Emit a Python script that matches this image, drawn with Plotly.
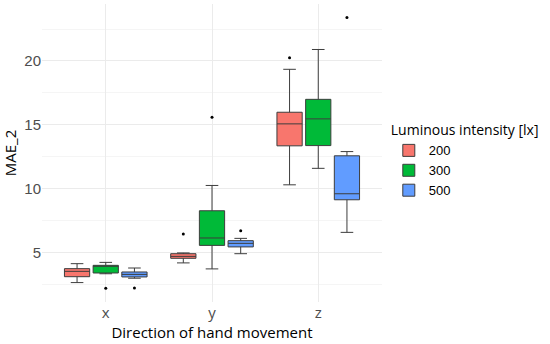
"""Grouped boxplot of MAE_2 by hand movement direction and luminous intensity."""

import plotly.graph_objects as go

# Categories and groups
directions = ['x', 'y', 'z']
lux_levels = ['200', '300', '500']
lux_colors = ['#F8766D', '#00BA38', '#619CFF']

# Box statistics per lux level (one value per direction: x, y, z)
q1_200 = [3.12, 4.56, 13.36]
median_200 = [3.54, 4.71, 15.08]
q3_200 = [3.75, 4.92, 15.99]
lower_200 = [2.66, 4.20, 10.31]
upper_200 = [4.14, 4.98, 19.35]

q1_300 = [3.41, 5.57, 13.38]
median_300 = [3.93, 6.15, 15.47]
q3_300 = [4.01, 8.28, 17.00]
lower_300 = [3.35, 3.73, 11.60]
upper_300 = [4.24, 10.26, 20.90]

q1_500 = [3.10, 5.45, 9.14]
median_500 = [3.30, 5.73, 9.61]
q3_500 = [3.49, 5.94, 12.58]
lower_500 = [3.00, 4.92, 6.59]
upper_500 = [3.80, 6.12, 12.91]

# Outliers per lux level
outlier_x_200 = ['y', 'z']
outlier_y_200 = [6.46, 20.26]
outlier_x_300 = ['x', 'y']
outlier_y_300 = [2.21, 15.6]
outlier_x_500 = ['x', 'y', 'z']
outlier_y_500 = [2.24, 6.72, 23.41]

stats = {
    '200': (q1_200, median_200, q3_200, lower_200, upper_200, outlier_x_200, outlier_y_200),
    '300': (q1_300, median_300, q3_300, lower_300, upper_300, outlier_x_300, outlier_y_300),
    '500': (q1_500, median_500, q3_500, lower_500, upper_500, outlier_x_500, outlier_y_500),
}

fig = go.Figure()

for lux, color in zip(lux_levels, lux_colors):
    q1, med, q3, lo, hi, ox, oy = stats[lux]
    fig.add_trace(go.Box(
        x=directions,
        q1=q1, median=med, q3=q3,
        lowerfence=lo, upperfence=hi,
        name=lux,
        offsetgroup=lux,
        alignmentgroup='all',
        fillcolor=color,
        line=dict(color='#3d3d3d', width=1),
        boxpoints=False,
        hoverinfo='skip',
    ))
    # Outliers drawn as points in the same dodge slot
    fig.add_trace(go.Box(
        x=ox,
        y=oy,
        name=lux,
        offsetgroup=lux,
        alignmentgroup='all',
        fillcolor='rgba(0,0,0,0)',
        line=dict(color='rgba(0,0,0,0)', width=0),
        boxpoints='all',
        jitter=0,
        pointpos=0,
        marker=dict(color='black', size=3),
        showlegend=False,
        hoverinfo='skip',
    ))

fig.update_layout(
    width=550,
    height=344,
    boxmode='group',
    boxgap=0.19,
    boxgroupgap=0.12,
    plot_bgcolor='white',
    paper_bgcolor='white',
    margin=dict(l=42, r=168, t=4, b=42),
    font=dict(family='Liberation Sans, Arial', color='#4d4d4d'),
    legend=dict(
        title=dict(text='Luminous intensity [lx]',
                   font=dict(family='Open Sans', size=14, color='black')),
        font=dict(family='Liberation Sans, Arial', size=13, color='black'),
        x=1.02, xanchor='left',
        y=0.62, yanchor='top',
        tracegroupgap=0,
        itemwidth=30,
    ),
)

fig.update_xaxes(
    type='category',
    categoryorder='array',
    categoryarray=directions,
    range=[-0.6, 2.6],
    showgrid=True,
    gridcolor='#ebebeb',
    zeroline=False,
    showline=False,
    ticks='',
    tickfont=dict(family='Open Sans', size=15, color='#4d4d4d'),
    title=dict(text='Direction of hand movement',
               font=dict(family='Open Sans', size=15, color='black'),
               standoff=4),
)

fig.update_yaxes(
    range=[1.14, 24.46],
    tick0=0,
    dtick=5,
    showgrid=True,
    gridcolor='#ebebeb',
    minor=dict(tick0=2.5, dtick=5, showgrid=True, gridcolor='#f5f5f5'),
    zeroline=False,
    showline=False,
    ticks='',
    tickfont=dict(size=15, color='#4d4d4d'),
    title=dict(text='MAE_2',
               font=dict(family='Open Sans', size=15, color='black'),
               standoff=4),
)

# Drop the default page margin so the figure sits at the window's corner
fig.write_html(
    "out.html",
    config={'displayModeBar': False},
    post_script="document.body.style.margin='0';",
)
